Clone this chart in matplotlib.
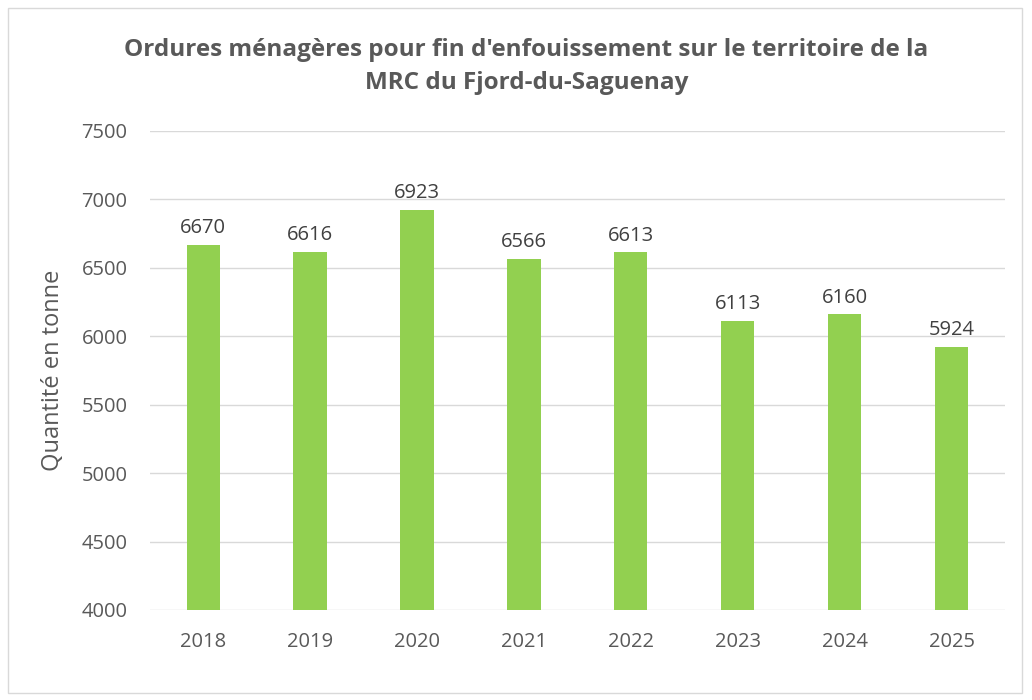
import matplotlib.pyplot as plt
from matplotlib.patches import Rectangle

years = ["2018", "2019", "2020", "2021", "2022", "2023", "2024", "2025"]
tonnes = [6670, 6616, 6923, 6566, 6613, 6113, 6160, 5924]
y_ticks = [4000, 4500, 5000, 5500, 6000, 6500, 7000, 7500]

title = "Ordures ménagères pour fin d'enfouissement sur le territoire de la\nMRC du Fjord-du-Saguenay"
y_label = "Quantité en tonne"

plt.rcParams["font.family"] = ["Open Sans", "DejaVu Sans"]

fig = plt.figure(figsize=(10.32, 7.0), dpi=100)
ax = fig.add_axes([0.145, 0.1286, 0.829, 0.6843])

x = range(len(years))
ax.bar(x, [t - 4000 for t in tonnes], bottom=4000, width=0.31, color="#92D050", zorder=2)

for i, v in enumerate(tonnes):
    ax.text(i, v + 50, str(v), ha="center", va="bottom", fontsize=14.5, color="#404040")

ax.set_xlim(-0.5, len(years) - 0.5)
ax.set_ylim(4000, 7500)
ax.set_yticks(y_ticks)
ax.set_xticks(list(x))
ax.set_xticklabels(years)
ax.tick_params(axis="both", length=0, labelsize=14.5, labelcolor="#595959")
ax.tick_params(axis="y", pad=16)
ax.tick_params(axis="x", pad=16)
ax.grid(axis="y", color="#D9D9D9", linewidth=1, zorder=0)
for s in ax.spines.values():
    s.set_visible(False)

ax.set_ylabel(y_label, fontsize=17, color="#595959", labelpad=12)

fig.text(0.51, 0.905, title, ha="center", va="center", fontsize=17.5,
         fontweight="bold", color="#595959", linespacing=1.55)

fig.patches.append(Rectangle((0.008, 0.01), 0.982, 0.979, transform=fig.transFigure,
                             fill=False, edgecolor="#D9D9D9", linewidth=1))

fig.savefig("out.png", dpi=100)
